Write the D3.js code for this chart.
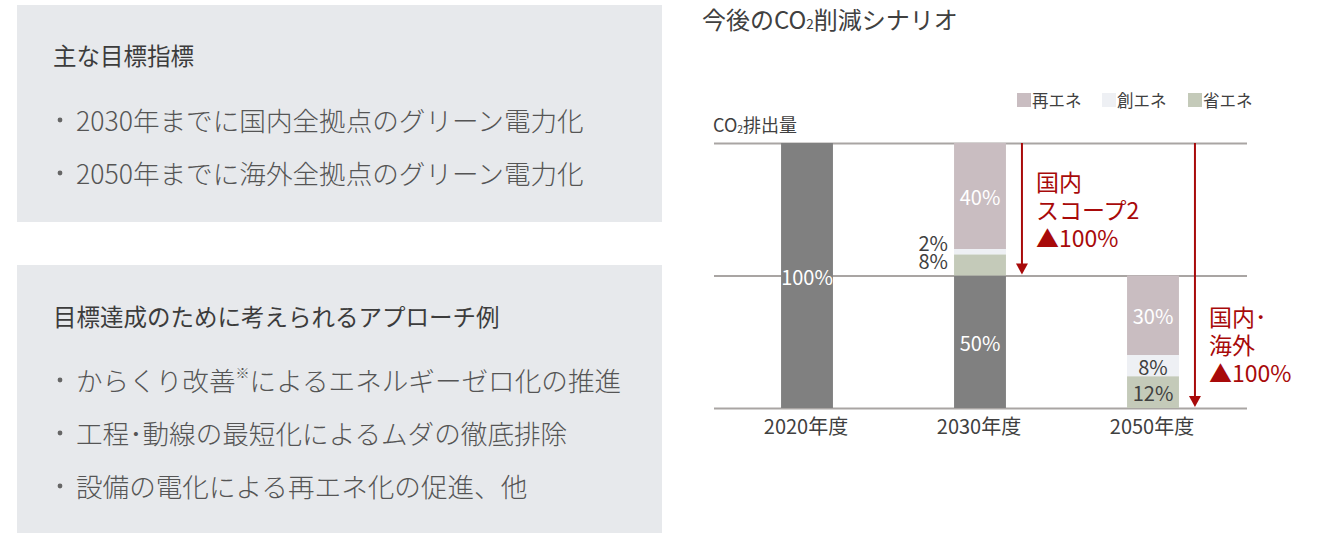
<!DOCTYPE html>
<html>
<head>
<meta charset="utf-8">
<script src="https://cdn.jsdelivr.net/npm/d3@7/dist/d3.min.js"></script>
<style>
  html, body { margin: 0; padding: 0; background: #ffffff; }
  svg { display: block; font-family: "Noto Sans CJK JP", "Noto Sans", sans-serif; }
</style>
</head>
<body>
<svg id="chart" width="1339" height="533"></svg>
<script>
// ---------- data ----------
const categories = ['2020年度', '2030年度', '2050年度'];
const emissions  = [100, 50, 0];   // CO2排出量 (gray)
const shoEne     = [0, 8, 12];     // 省エネ
const soEne      = [0, 2, 8];      // 創エネ
const saiEne     = [0, 40, 30];    // 再エネ
const stackKeys  = ['CO2', '省エネ', '創エネ', '再エネ'];
const legendNames = ['再エネ', '創エネ', '省エネ'];
const yTicks = [0, 50, 100];
const outsideLabelCats = ['2030年度'];
const arrows = [
  { cat: '2030年度', from: 100, to: 50, lines: ['国内', 'スコープ2', '▲100%'] },
  { cat: '2050年度', from: 100, to: 0,  lines: ['国内･', '海外', '▲100%'] }
];
const panel1Title = '主な目標指標';
const panel1Items = [['2030年までに国内全拠点のグリーン電力化'], ['2050年までに海外全拠点のグリーン電力化']];
const panel2Title = '目標達成のために考えられるアプローチ例';
const panel2Items = [['からくり改善', '※', 'によるエネルギーゼロ化の推進'], ['工程･動線の最短化によるムダの徹底排除'], ['設備の電化による再エネ化の促進、他']];

// ---------- styles ----------
const colors = { 'CO2': '#808080', '省エネ': '#c4cab9', '創エネ': '#eef0f4', '再エネ': '#c9bdc1' };
const labelColors = { 'CO2': '#ffffff', '省エネ': '#404040', '創エネ': '#404040', '再エネ': '#ffffff' };
const red = '#a80a0a';
const textDark = '#404040';

const svg = d3.select('#chart');

// ---------- left panels ----------
function panel(y0, h, title, titleY, items, itemY0, itemStep) {
  svg.append('rect').attr('x', 17).attr('y', y0).attr('width', 645).attr('height', h).attr('fill', '#e7e9ec');
  svg.append('text').attr('x', 53).attr('y', titleY).attr('dominant-baseline', 'central')
    .attr('font-size', 23.5).attr('fill', '#3c3c3c').text(title);
  items.forEach((parts, i) => {
    const yy = itemY0 + i * itemStep;
    svg.append('circle').attr('cx', 60).attr('cy', yy + 1).attr('r', 2.4).attr('fill', '#666');
    const t = svg.append('text').attr('x', 76).attr('font-size', 26.6).attr('font-weight', 300).attr('fill', '#555');
    parts.forEach(p => {
      if (p === '※') {
        t.append('tspan').attr('y', yy - 7).attr('font-size', 14).attr('dominant-baseline', 'central').text(p);
      } else {
        t.append('tspan').attr('y', yy).attr('dominant-baseline', 'central').text(p);
      }
    });
  });
}
panel(5, 217, panel1Title, 55, panel1Items, 119, 53);
panel(265, 268, panel2Title, 316, panel2Items, 379, 53);

// ---------- chart ----------
svg.append('text').attr('x', 702).attr('y', 18).attr('dominant-baseline', 'central')
  .attr('font-size', 24).attr('fill', textDark)
  .call(t => {
    t.append('tspan').text('今後のCO');
    t.append('tspan').attr('font-size', 13.5).attr('dy', 5).text('2');
    t.append('tspan').attr('dy', -5).text('削減シナリオ');
  });

const x = d3.scaleBand().domain(categories).range([720.5, 1239.5]).paddingInner(0.7).paddingOuter(0.35);
const y = d3.scaleLinear().domain([0, 100]).range([408, 143]);

// gridlines
const grid = svg.append('g').attr('transform', 'translate(714,0)')
  .call(d3.axisLeft(y).tickValues(yTicks).tickSize(-533).tickFormat(''));
grid.select('.domain').remove();
grid.selectAll('.tick line').attr('stroke', '#a9a5a3').attr('stroke-width', 1.8);

// y title
svg.append('text').attr('x', 713).attr('y', 124).attr('dominant-baseline', 'central')
  .attr('font-size', 18).attr('fill', textDark)
  .call(t => {
    t.append('tspan').text('CO');
    t.append('tspan').attr('font-size', 10.5).attr('dy', 4).text('2');
    t.append('tspan').attr('dy', -4).text('排出量');
  });

// stacked bars
const rows = categories.map((c, i) => ({ cat: c, 'CO2': emissions[i], '省エネ': shoEne[i], '創エネ': soEne[i], '再エネ': saiEne[i] }));
const stacked = d3.stack().keys(stackKeys)(rows);

const layers = svg.append('g').selectAll('g').data(stacked).join('g').attr('fill', d => colors[d.key]);
layers.selectAll('rect').data(d => d.filter(s => s[1] - s[0] > 0)).join('rect')
  .attr('x', d => x(d.data.cat))
  .attr('width', x.bandwidth())
  .attr('y', d => y(d[1]))
  .attr('height', d => y(d[0]) - y(d[1]));

// labels
const labelG = svg.append('g').attr('font-size', 20);
stacked.forEach(layer => {
  layer.forEach(s => {
    const v = s[1] - s[0];
    if (v <= 0) return;
    const cat = s.data.cat;
    const ci = categories.indexOf(cat);
    const outside = outsideLabelCats.includes(cat) && (layer.key === '省エネ' || layer.key === '創エネ');
    if (outside) {
      const base = y(shoEne[ci] / 2 + emissions[ci]) - 4;
      const yy = layer.key === '省エネ' ? base : base - 18;
      labelG.append('text').attr('x', x(cat) - 6).attr('y', yy)
        .attr('text-anchor', 'end').attr('dominant-baseline', 'central')
        .attr('fill', textDark).text(v + '%');
    } else {
      labelG.append('text').attr('x', x(cat) + x.bandwidth() / 2).attr('y', (y(s[0]) + y(s[1])) / 2 + 0.5)
        .attr('text-anchor', 'middle').attr('dominant-baseline', 'central')
        .attr('fill', labelColors[layer.key]).text(v + '%');
    }
  });
});

// x axis labels
const xa = svg.append('g').attr('transform', 'translate(-1,419)')
  .call(d3.axisBottom(x).tickSize(0).tickPadding(0));
xa.select('.domain').remove();
xa.selectAll('text').attr('font-size', 20).attr('fill', textDark)
  .attr('font-family', '"Noto Sans CJK JP", sans-serif').attr('dy', '0.75em');

// legend
const legend = svg.append('g');
const legendX = [1017, 1102, 1188];
legendNames.forEach((n, i) => {
  legend.append('rect').attr('x', legendX[i]).attr('y', 93).attr('width', 14).attr('height', 14).attr('fill', colors[n]);
  legend.append('text').attr('x', legendX[i] + 15).attr('y', 100).attr('dominant-baseline', 'central')
    .attr('font-size', 16.5).attr('fill', textDark).text(n);
});

// arrows + annotations
arrows.forEach(a => {
  const ax = x(a.cat) + x.bandwidth() + 16;
  const tip = y(a.to) - 1;
  svg.append('line').attr('x1', ax).attr('x2', ax).attr('y1', y(a.from)).attr('y2', tip - 8)
    .attr('stroke', red).attr('stroke-width', 2);
  svg.append('path').attr('d', `M${ax - 6},${tip - 11}L${ax + 6},${tip - 11}L${ax},${tip}Z`).attr('fill', red);
  const topLineY = a.to === 50 ? 181 : 316;
  const t = svg.append('text').attr('font-size', 23).attr('fill', red);
  a.lines.forEach((ln, i) => {
    t.append('tspan').attr('x', ax + 14).attr('y', topLineY + i * 27.8).attr('dominant-baseline', 'central').text(ln);
  });
});
</script>
</body>
</html>
